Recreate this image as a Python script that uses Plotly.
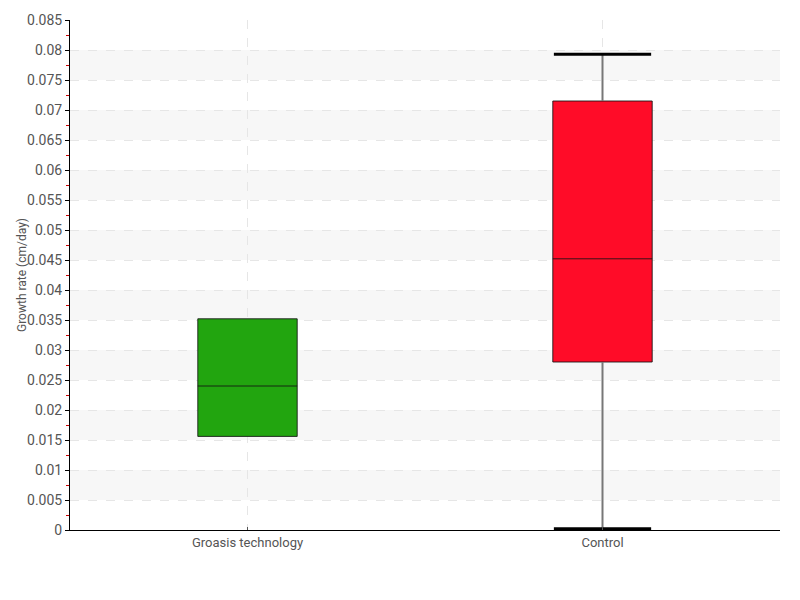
import plotly.graph_objects as go

categories = ["Groasis technology", "Control"]
mins = [0.0156, 0.0002]
q1s = [0.0156, 0.0280]
medians = [0.0240, 0.0452]
q3s = [0.0352, 0.0715]
maxs = [0.0352, 0.0793]
colors = ["#22a50f", "#ff0c28"]
ytick_vals = [round(i * 0.005, 3) for i in range(18)]
ytick_text = ["0" if v == 0 else f"{v:g}" for v in ytick_vals]
y_title = "Growth rate (cm/day)"

FONT = "Roboto, sans-serif"

fig = go.Figure()

xs = list(range(len(categories)))
box_w = 0.28
cap_half = 0.137

for i, cat in enumerate(categories):
    wx, wy = [], []
    if maxs[i] > q3s[i]:
        wx += [i, i, None]
        wy += [q3s[i], maxs[i], None]
    if mins[i] < q1s[i]:
        wx += [i, i, None]
        wy += [q1s[i], mins[i], None]
    if wx:
        fig.add_trace(go.Scatter(x=wx, y=wy, mode="lines",
                                 line=dict(color="#777777", width=2),
                                 hoverinfo="skip", showlegend=False))
    fig.add_trace(go.Box(
        x=[i], q1=[q1s[i]], median=[medians[i]], q3=[q3s[i]],
        lowerfence=[q1s[i]], upperfence=[q3s[i]],
        width=box_w, whiskerwidth=0,
        fillcolor=colors[i],
        line=dict(color="rgba(20,20,20,0.85)", width=1),
        name=cat, showlegend=False, boxpoints=False,
    ))
    for v, edge in ((maxs[i], q3s[i]), (mins[i], q1s[i])):
        if v != edge:
            fig.add_trace(go.Scatter(x=[i - cap_half, i + cap_half], y=[v, v],
                                     mode="lines", line=dict(color="black", width=3),
                                     hoverinfo="skip", showlegend=False))

shapes = []
for k in range(len(ytick_vals) - 1):
    if k % 2 == 1:
        shapes.append(dict(type="rect", xref="paper", yref="y", x0=0, x1=1,
                           y0=ytick_vals[k], y1=ytick_vals[k + 1],
                           fillcolor="#f7f7f7", line=dict(width=0), layer="below"))

fig.update_layout(
    width=800, height=600,
    margin=dict(l=62, r=28, t=12, b=78, autoexpand=False),
    plot_bgcolor="white", paper_bgcolor="white",
    shapes=shapes,
    font=dict(family=FONT, size=14, color="#555555"),
    xaxis=dict(
        range=[-0.5, 1.5], tickmode="array", tickvals=xs, ticktext=categories,
        showline=True, linecolor="black", linewidth=1,
        ticks="inside", ticklen=3, tickcolor="#555",
        showgrid=True, gridcolor="#e6e6e6", griddash="dash", gridwidth=1,
        zeroline=False, tickfont=dict(size=13, color="#555"),
    ),
    yaxis=dict(
        range=[0, 0.085], tickmode="array", tickvals=ytick_vals, ticktext=ytick_text,
        showline=True, linecolor="black", linewidth=1,
        ticks="outside", ticklen=4, tickcolor="black",
        minor=dict(ticks="outside", ticklen=3, tickcolor="#cc0000", dtick=0.0025, showgrid=False),
        showgrid=True, gridcolor="#e6e6e6", griddash="dash", gridwidth=1,
        zeroline=False, tickfont=dict(size=14, color="#555"),
    ),
    annotations=[dict(text=y_title, textangle=-90, xref="paper", yref="paper",
                      x=-0.0676, y=0.5, xanchor="center", yanchor="middle",
                      showarrow=False, font=dict(size=12, color="#555"))],
    hovermode=False,
)

fig.write_html("out.html")
